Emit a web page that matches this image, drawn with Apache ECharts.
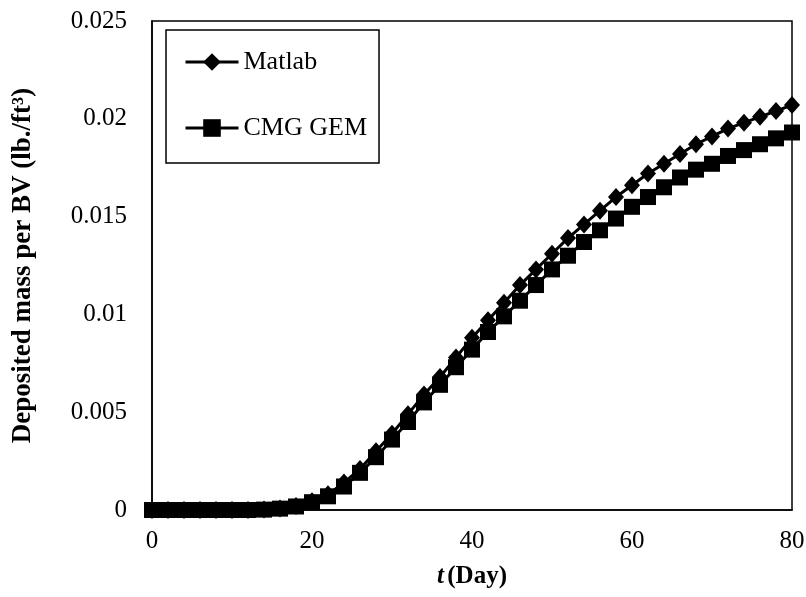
<!DOCTYPE html>
<html><head><meta charset="utf-8">
<script src="https://cdn.jsdelivr.net/npm/echarts@6/dist/echarts.min.js"></script>
<style>html,body{margin:0;padding:0;background:#fff}#c{width:806px;height:597px}</style>
</head><body><div id="c"></div>
<script>
const days = [0,2,4,6,8,10,12,14,16,18,20,22,24,26,28,30,32,34,36,38,40,42,44,46,48,50,52,54,56,58,60,62,64,66,68,70,72,74,76,78,80];
const matlab = [0,0,0,0,0,0,0,0.00002,0.00008,0.0002,0.00045,0.0008,0.0014,0.0021,0.0030,0.0039,0.0049,0.0059,0.0068,0.0078,0.0088,0.0097,0.0106,0.0115,0.0123,0.0131,0.0139,0.0146,0.0153,0.0160,0.0166,0.0172,0.0177,0.0182,0.0187,0.0191,0.0195,0.0198,0.0201,0.0204,0.0207];
const cmg = [0,0,0,0,0,0,0,0.00002,0.00007,0.00018,0.0004,0.0007,0.0012,0.0019,0.0027,0.0036,0.0045,0.0055,0.0064,0.0073,0.0082,0.0091,0.0099,0.0107,0.0115,0.0123,0.0130,0.0137,0.0143,0.0149,0.0155,0.0160,0.0165,0.0170,0.0174,0.0177,0.0181,0.0184,0.0187,0.0190,0.0193];
const xTicks = [0,20,40,60,80];
const yTicks = [0,0.005,0.01,0.015,0.02,0.025];
const seriesNames = ['Matlab','CMG GEM'];

const font = 'Liberation Serif';
const chart = echarts.init(document.getElementById('c'), null, {renderer:'canvas'});
const pair = (xs, ys) => xs.map((x,i)=>[x, ys[i]]);
chart.setOption({
  animation:false,
  backgroundColor:'#fff',
  grid:{left:152, right:14, top:21, bottom:87, show:true, borderColor:'#000', borderWidth:1.5, outerBoundsMode:'none', containLabel:false},
  xAxis:{type:'value', min:0, max:80, interval:20,
    axisLine:{lineStyle:{color:'#000', width:1.5}}, axisTick:{show:false}, splitLine:{show:false},
    axisLabel:{color:'#000', fontFamily:font, fontSize:25, margin:19, formatter:v=>xTicks.includes(v)?String(v):''},
    name:'{i|t} {b|(Day)}', nameLocation:'middle', nameGap:54,
    nameTextStyle:{rich:{i:{fontFamily:font, fontSize:25, fontWeight:'bold', fontStyle:'italic', color:'#000'}, b:{fontFamily:font, fontSize:25, fontWeight:'bold', color:'#000'}}}
  },
  yAxis:{type:'value', min:0, max:0.025, interval:0.005,
    axisLine:{lineStyle:{color:'#000', width:1.5}}, axisTick:{show:false}, splitLine:{show:false},
    axisLabel:{color:'#000', fontFamily:font, fontSize:25, margin:25, formatter:v=>{const t=yTicks.find(a=>Math.abs(a-v)<1e-9); return t===undefined?'':String(+t.toFixed(3));}},
    name:'Deposited mass per BV (lb./ft³)', nameLocation:'middle', nameGap:115,
    nameTextStyle:{fontFamily:font, fontSize:27, fontWeight:'bold', color:'#000'}
  },
  legend:{data:seriesNames, orient:'vertical', left:166, top:30, itemWidth:53, itemHeight:22, itemGap:40, itemTextGap:6,
    padding:[19,12,22,18], borderColor:'#000', borderWidth:1.5,
    lineStyle:{width:3, color:'#000'},
    textStyle:{fontFamily:font, fontSize:26, color:'#000', lineHeight:26}},
  series:[
    {name:seriesNames[0], type:'line', data:pair(days, matlab), symbol:'diamond', symbolSize:[16,18],
      lineStyle:{color:'#000', width:3}, itemStyle:{color:'#000'}, z:3},
    {name:seriesNames[1], type:'line', data:pair(days, cmg), symbol:'rect', symbolSize:16,
      lineStyle:{color:'#000', width:3}, itemStyle:{color:'#000'}, z:2}
  ]
});
</script></body></html>
